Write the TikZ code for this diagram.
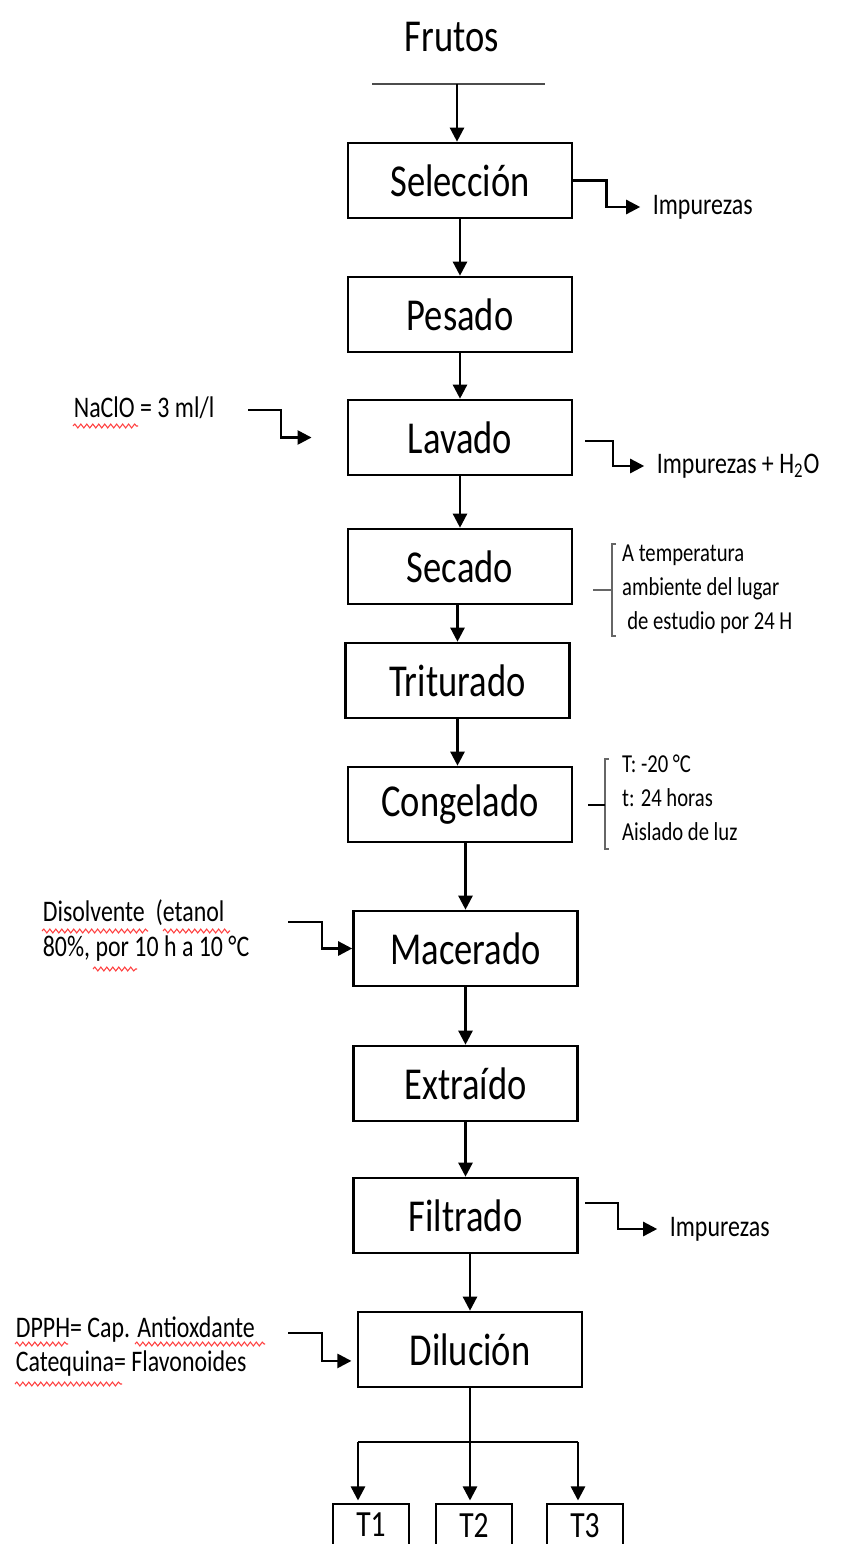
\documentclass[tikz,border=0pt]{standalone}
\usepackage{fontspec}
\setmainfont{Carlito}[FakeStretch=0.8]
\usetikzlibrary{arrows.meta,decorations.pathmorphing}
\newcommand{\boxfont}{\fontsize{26}{30}\selectfont}
\newcommand{\sidefont}{\fontsize{17}{19.8}\selectfont}
\newcommand{\notefont}{\fontsize{14.7}{19.3}\selectfont}
\newcommand{\tlabelfont}{\fontsize{21}{24}\selectfont}

\begin{document}
\begin{tikzpicture}[x=0.02cm,y=-0.02cm,
  proc/.style={draw,line width=1.5pt,minimum width=4.48cm,minimum height=1.5cm,font=\boxfont},
  tbox/.style={minimum width=1.5cm,anchor=north,inner ysep=5pt,text depth=0pt,font=\tlabelfont},
  tside/.style={line width=1.5pt},
  arr/.style={line width=1.4pt,-{Triangle[length=8pt,width=8pt]}},
  exitarr/.style={arr,shorten >=5pt},
  side/.style={font=\sidefont,align=left,anchor=west,inner sep=2pt},
  note/.style={font=\notefont,align=left,anchor=west,inner sep=1pt},
  brk/.style={line width=1.4pt,black!60},
  typo/.style={red!75,line width=0.6pt,decorate,decoration={snake,amplitude=1.1pt,segment length=3.4pt}}]
 \useasboundingbox (0,0) rectangle (842,1544);
 % main line
 \node[font=\boxfont] (fru) at (452,37) {Frutos};
 \node[proc] (sel) at (460,180.5) {Selección};
 \node[proc] (pes) at (460,314.5) {Pesado};
 \node[proc] (lav) at (460,437.5) {Lavado};
 \node[proc] (sec) at (460,566.5) {Secado};
 \node[proc] (tri) at (457.5,680.5) {Triturado};
 \node[proc] (con) at (460,804.5) {Congelado};
 \node[proc] (mac) at (465.5,948.5) {Macerado};
 \node[proc] (ext) at (465.5,1083.5) {Extraído};
 \node[proc] (fil) at (465.5,1215.5) {Filtrado};
 \node[proc] (dil) at (470,1349.5) {Dilución};
 \node[tbox] (t1) at (371,1504) {T1};
 \node[tbox] (t2) at (474,1504) {T2};
 \node[tbox] (t3) at (585,1504) {T3};
 \foreach \t in {t1,t2,t3}
   \draw[tside] ([yshift=-10pt]\t.south west) |- (\t.north east) -- ([yshift=-10pt]\t.south east);
 % side texts
 \node[side] (imp1) at (649,207) {Impurezas};
 \node[side] (imp2) at (653,466) {Impurezas + H\textsubscript{2}O};
 \node[side] (imp3) at (666,1229) {Impurezas};
 \node[side] (nacl) at (70,408) {NaClO = 3 ml/l};
 \node[side] (dis) at (39,930.5) {Disolvente\ \ (etanol\\80\%, por 10 h a 10 °C};
 \node[side] (dpph) at (12,1346.5) {DPPH= Cap. Antioxdante\\Catequina= Flavonoides};
 \node[note] (secn) at (620,589) {A temperatura\\ambiente del lugar\\\hspace{3pt}de estudio por 24 H};
 \node[note] (conn) at (620,798) {T: -20 °C\\t: 24 horas\\Aislado de luz};
 % feed
 \coordinate (fl) at (372,84);
 \coordinate (fr) at (545,84);
 \coordinate (ftop) at (457,84);
 \draw[line width=1.5pt,black!70] (fl) -- (fr);
 \draw[arr] (ftop) -- (ftop |- sel.north);
 \draw[arr] (sel.south) -- (pes.north);
 \draw[arr] (pes.south) -- (lav.north);
 \draw[arr] (lav.south) -- (sec.north);
 \draw[arr] (tri.north |- sec.south) -- (tri.north);
 \draw[arr] (tri.south) -- (tri.south |- con.north);
 \draw[arr] (mac.north |- con.south) -- (mac.north);
 \draw[arr] (mac.south) -- (ext.north);
 \draw[arr] (ext.south) -- (fil.north);
 \draw[arr] (dil.north |- fil.south) -- (dil.north);
 % inputs and outputs
 \coordinate (lavout) at (585,441);
 \coordinate (filout) at (585,1203);
 \coordinate (nain) at (248,410);
 \coordinate (disin) at (288,922);
 \coordinate (dpin) at (288,1333);
 \draw[exitarr] (sel.east) -- ++(33,0) |- (imp1.west);
 \draw[exitarr] (lavout) -- ++(28,0) |- (imp2.west);
 \draw[exitarr] (filout) -- ++(33,0) |- (imp3.west);
 \draw[arr] (nain) -- ++(33,0) |- ([xshift=-20pt]lav.west);
 \draw[arr] (disin) -- ++(34,0) |- (mac.west);
 \draw[arr] (dpin) -- ++(34,0) |- ([xshift=-3pt,yshift=-6.5pt]dil.west);
 % brackets
 \draw[brk] (616,544) -- (612,544) -- (612,636) -- (616,636);
 \draw[brk] (593,590) -- (612,590);
 \draw[brk] (609,759) -- (605,759) -- (605,849) -- (609,849);
 \draw[line width=1.4pt] (588,805) -- (605,805);
 % split to samples
 \coordinate (bl) at (358,1442);
 \coordinate (br) at (578,1442);
 \draw[line width=1.4pt] (dil.south) -- (dil.south |- bl);
 \draw[line width=1.4pt] (bl) -- (br);
 \draw[arr,shorten >=2pt] (bl) -- (bl |- t1.north);
 \draw[arr,shorten >=2pt] (dil.south |- bl) -- (dil.south |- t2.north);
 \draw[arr,shorten >=2pt] (br) -- (br |- t3.north);
 % spelling marks
 \draw[typo] (73,426) -- (138,426);
 \draw[typo] (42,931) -- (148,931);
 \draw[typo] (163,931) -- (230,931);
 \draw[typo] (93,969) -- (137,969);
 \draw[typo] (15,1344) -- (68,1344);
 \draw[typo] (135,1344) -- (265,1344);
 \draw[typo] (15,1384) -- (122,1384);
\end{tikzpicture}
\end{document}
